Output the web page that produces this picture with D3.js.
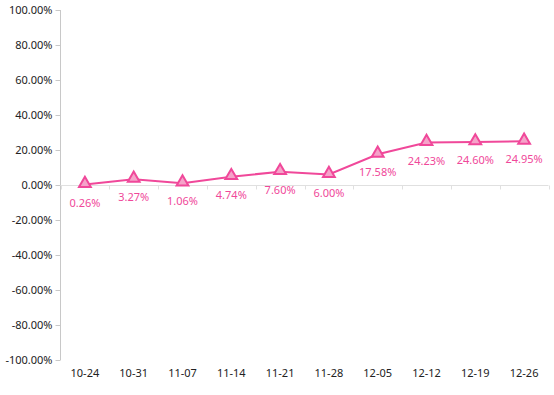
<!DOCTYPE html>
<html>
<head>
<meta charset="utf-8">
<script src="https://cdn.jsdelivr.net/npm/d3@7"></script>
<style>
  body { margin: 0; background: #fff; }
  text { font-family: "Noto Sans", "Open Sans", sans-serif; }
</style>
</head>
<body>
<div id="chart"></div>
<script>
// weeks on the x axis
var weeks = ["10-24", "10-31", "11-07", "11-14", "11-21", "11-28", "12-05", "12-12", "12-19", "12-26"];
// cumulative return, percent
var returns = [0.26, 3.27, 1.06, 4.74, 7.60, 6.00, 17.58, 24.23, 24.60, 24.95];
var yTicks = [-100, -80, -60, -40, -20, 0, 20, 40, 60, 80, 100];

var width = 554, height = 395;
var plotLeft = 60.5, plotRight = 548.5, plotTop = 10, plotBottom = 360;
var pink = "#f0489a";

var svg = d3.select("#chart").append("svg")
    .attr("width", width)
    .attr("height", height);

var x = d3.scaleBand().domain(weeks).range([plotLeft, plotRight]);
var y = d3.scaleLinear().domain([-100, 100]).range([plotBottom, plotTop]);

// y axis
var yAxis = svg.append("g")
    .attr("transform", "translate(" + plotLeft + ",0)")
    .call(d3.axisLeft(y).tickValues(yTicks).tickSize(5).tickPadding(3)
        .tickFormat(function (d) { return d.toFixed(2) + "%"; }));
yAxis.select(".domain").attr("stroke", "#c8c8c8").attr("d", "M0," + plotTop + "V" + plotBottom);
yAxis.selectAll(".tick line").attr("stroke", "#c8c8c8");
yAxis.selectAll(".tick text").attr("fill", "#222").style("font-size", "11px");

// zero line with band ticks
var zero = Math.round(y(0)) + 0.5;
svg.append("line")
    .attr("x1", plotLeft).attr("x2", plotRight)
    .attr("y1", zero).attr("y2", zero)
    .attr("stroke", "#e0e0e0");
var edges = weeks.map(function (w) { return x(w); }).concat([plotRight]);
svg.selectAll(".xtick").data(edges).enter().append("line")
    .attr("class", "xtick")
    .attr("x1", function (d) { return Math.round(d) + 0.5; })
    .attr("x2", function (d) { return Math.round(d) + 0.5; })
    .attr("y1", zero).attr("y2", zero + 4)
    .attr("stroke", "#e0e0e0");

// x labels at the bottom
svg.selectAll(".xlab").data(weeks).enter().append("text")
    .attr("class", "xlab")
    .attr("x", function (d) { return x(d) + x.bandwidth() / 2; })
    .attr("y", 377)
    .attr("text-anchor", "middle")
    .style("font-size", "11px")
    .attr("fill", "#222")
    .text(function (d) { return d; });

var cx = function (d, i) { return x(weeks[i]) + x.bandwidth() / 2; };

var line = d3.line()
    .x(function (d, i) { return cx(d, i); })
    .y(function (d) { return y(d); });

svg.append("path")
    .datum(returns)
    .attr("fill", "none")
    .attr("stroke", pink)
    .attr("stroke-width", 2)
    .attr("d", line);

svg.selectAll(".pt").data(returns).enter().append("path")
    .attr("class", "pt")
    .attr("d", d3.symbol().type(d3.symbolTriangle).size(60))
    .attr("transform", function (d, i) { return "translate(" + cx(d, i) + "," + (y(d) - 1) + ")"; })
    .attr("fill", "#f5a3c9")
    .attr("stroke", pink)
    .attr("stroke-width", 2);

svg.selectAll(".lab").data(returns).enter().append("text")
    .attr("class", "lab")
    .attr("x", function (d, i) { return cx(d, i); })
    .attr("y", function (d) { return y(d) + 22; })
    .attr("text-anchor", "middle")
    .style("font-size", "11px")
    .attr("fill", pink)
    .text(function (d) { return d.toFixed(2) + "%"; });
</script>
</body>
</html>
